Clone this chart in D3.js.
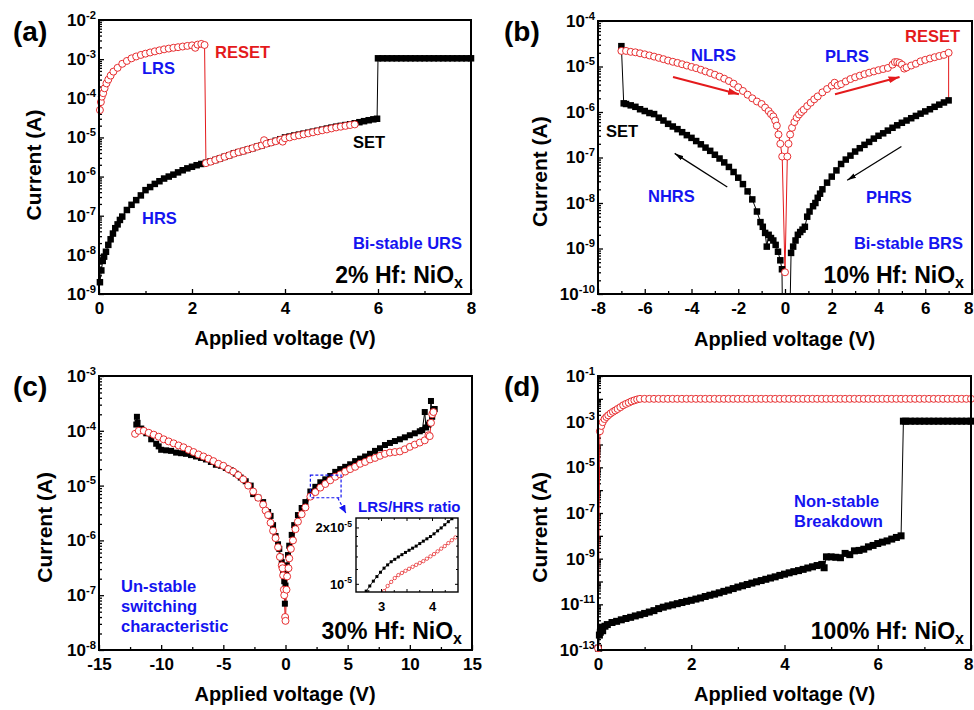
<!DOCTYPE html>
<html>
<head>
<meta charset="utf-8">
<script src="https://cdn.jsdelivr.net/npm/d3@7"></script>
<style>
  body { margin: 0; background: #fff; }
  svg text { font-family: Arial, "Liberation Sans", Helvetica, sans-serif; font-weight: bold; }
</style>
</head>
<body>
<svg id="fig" width="974" height="710"></svg>
<script>
/************************************************************
 * 1) Data  [voltage (V), current (A)]
 ************************************************************/
// (a) 2% Hf: HRS sweep, SET at 6 V, then compliance
const aBlack = [[0.02,2.0e-9],[0.05,4.0e-9],[0.08,7.0e-9],[0.11,9.0e-9],[0.15,1.2e-8],[0.2,1.8e-8],[0.25,2.5e-8],[0.3,3.5e-8],[0.35,4.8e-8],[0.4,6.0e-8],[0.45,7.8e-8],[0.5,9.5e-8],[0.6,1.4e-7],[0.7,1.9e-7],[0.8,2.5e-7],[0.9,3.3e-7],[1.0,4.5e-7],[1.1,5.4e-7],[1.2,6.5e-7],[1.3,7.6e-7],[1.4,8.9e-7],[1.5,1.0e-6],[1.6,1.12e-6],[1.7,1.28e-6],[1.8,1.45e-6],[1.9,1.62e-6],[2.0,1.78e-6],[2.1,1.95e-6],[2.2,2.1e-6],[2.3,2.25e-6],[2.4,2.45e-6],[2.5,2.65e-6],[2.6,2.9e-6],[2.7,3.2e-6],[2.8,3.5e-6],[2.9,3.9e-6],[3.0,4.2e-6],[3.1,4.5e-6],[3.2,4.9e-6],[3.3,5.3e-6],[3.4,5.8e-6],[3.5,6.3e-6],[3.6,6.9e-6],[3.7,7.5e-6],[3.8,8.2e-6],[3.9,9.0e-6],[4.0,1.0e-5],[4.1,1.05e-5],[4.2,1.12e-5],[4.3,1.18e-5],[4.4,1.25e-5],[4.5,1.32e-5],[4.6,1.4e-5],[4.7,1.48e-5],[4.8,1.58e-5],[4.9,1.68e-5],[5.0,1.78e-5],[5.1,1.88e-5],[5.2,1.97e-5],[5.3,2.07e-5],[5.4,2.17e-5],[5.5,2.3e-5],[5.6,2.45e-5],[5.7,2.6e-5],[5.8,2.75e-5],[5.9,2.9e-5],[5.98,3.0e-5],
  [6.0,1.05e-3],[6.1,1.05e-3],[6.2,1.05e-3],[6.3,1.05e-3],[6.4,1.05e-3],[6.5,1.05e-3],[6.6,1.05e-3],[6.7,1.05e-3],[6.8,1.05e-3],[6.9,1.05e-3],[7.0,1.05e-3],[7.1,1.05e-3],[7.2,1.05e-3],[7.3,1.05e-3],[7.4,1.05e-3],[7.5,1.05e-3],[7.6,1.05e-3],[7.7,1.05e-3],[7.8,1.05e-3],[7.9,1.05e-3],[8.0,1.05e-3]];
// (a) LRS sweep, RESET at 2.3 V, then back on HRS
const aRed = [[0.02,5.0e-5],[0.04,8.0e-5],[0.06,1.1e-4],[0.09,1.35e-4],[0.12,1.8e-4],[0.16,2.4e-4],[0.2,3.0e-4],[0.25,3.8e-4],[0.31,4.8e-4],[0.4,6.0e-4],[0.5,7.6e-4],[0.6,9.0e-4],[0.7,1.05e-3],[0.8,1.17e-3],[0.9,1.28e-3],[1.0,1.38e-3],[1.1,1.48e-3],[1.2,1.58e-3],[1.3,1.68e-3],[1.4,1.78e-3],[1.5,1.86e-3],[1.6,1.95e-3],[1.7,2.02e-3],[1.8,2.1e-3],[1.9,2.18e-3],[2.0,2.25e-3],[2.07,1.95e-3],[2.12,2.35e-3],[2.2,2.45e-3],[2.27,2.3e-3],
  [2.3,2.2e-6],[2.4,2.4e-6],[2.5,2.65e-6],[2.6,2.9e-6],[2.7,3.2e-6],[2.8,3.5e-6],[2.9,3.85e-6],[3.0,4.2e-6],[3.1,4.5e-6],[3.2,4.9e-6],[3.3,5.3e-6],[3.4,5.8e-6],[3.5,6.3e-6],[3.55,8.5e-6],[3.6,6.9e-6],[3.7,7.4e-6],[3.8,8.0e-6],[3.9,8.7e-6],[3.95,7.8e-6],[4.0,9.5e-6],[4.1,1.0e-5],[4.2,1.07e-5],[4.3,1.13e-5],[4.4,1.2e-5],[4.5,1.27e-5],[4.6,1.35e-5],[4.7,1.43e-5],[4.8,1.52e-5],[4.9,1.6e-5],[5.0,1.7e-5],[5.1,1.8e-5],[5.2,1.88e-5],[5.3,1.97e-5],[5.4,2.07e-5],[5.5,2.15e-5]];

// (b) 10% Hf: bipolar HRS (with SET point at -7 V) and LRS
const bBlack = [[-7.0,2.8e-5],[-6.9,1.55e-6],[-6.8,1.5e-6],[-6.6,1.4e-6],[-6.4,1.3e-6],[-6.2,1.15e-6],[-6.0,1.05e-6],[-5.8,9.5e-7],[-5.6,9.0e-7],[-5.4,7.5e-7],[-5.2,6.5e-7],[-5.0,5.5e-7],[-4.8,4.8e-7],[-4.6,4.2e-7],[-4.4,3.6e-7],[-4.2,3.1e-7],[-4.0,2.7e-7],[-3.8,2.3e-7],[-3.6,1.95e-7],[-3.4,1.65e-7],[-3.2,1.4e-7],[-3.0,1.15e-7],[-2.8,9.5e-8],[-2.6,7.8e-8],[-2.4,6.2e-8],[-2.2,4.8e-8],[-2.0,3.6e-8],[-1.8,2.6e-8],[-1.6,1.8e-8],[-1.4,1.2e-8],[-1.2,6.5e-9],[-1.05,3.8e-9],[-0.95,3.0e-9],[-0.85,2.2e-9],[-0.78,1.1e-9],[-0.7,2.0e-9],[-0.6,1.7e-9],[-0.5,1.5e-9],[-0.4,1.2e-9],[-0.3,8.5e-10],[-0.2,5.5e-10],[-0.13,3.5e-10],[-0.05,1e-13],[0.12,1e-13],[0.26,8.0e-10],[0.35,1.1e-9],[0.45,1.5e-9],[0.55,2.0e-9],[0.65,2.3e-9],[0.75,2.6e-9],[0.85,3.0e-9],[0.95,5.0e-9],[1.05,6.5e-9],[1.2,8.5e-9],[1.3,1.0e-8],[1.4,1.3e-8],[1.5,1.6e-8],[1.6,2.0e-8],[1.8,2.8e-8],[2.0,3.8e-8],[2.2,5.2e-8],[2.4,7.2e-8],[2.6,9.0e-8],[2.8,1.1e-7],[3.0,1.35e-7],[3.2,1.6e-7],[3.4,1.9e-7],[3.6,2.2e-7],[3.8,2.6e-7],[4.0,3.0e-7],[4.2,3.4e-7],[4.4,3.9e-7],[4.6,4.5e-7],[4.8,5.1e-7],[5.0,5.8e-7],[5.2,6.5e-7],[5.4,7.3e-7],[5.6,8.2e-7],[5.8,9.2e-7],[6.0,1.03e-6],[6.2,1.15e-6],[6.4,1.3e-6],[6.6,1.45e-6],[6.8,1.62e-6],[7.0,1.8e-6]];
const bRed = [[-7.0,2.2e-5],[-6.8,2.2e-5],[-6.6,2.1e-5],[-6.4,2.05e-5],[-6.2,1.95e-5],[-6.0,1.85e-5],[-5.8,1.75e-5],[-5.6,1.65e-5],[-5.4,1.55e-5],[-5.2,1.45e-5],[-5.0,1.35e-5],[-4.8,1.27e-5],[-4.6,1.2e-5],[-4.4,1.12e-5],[-4.2,1.05e-5],[-4.0,9.8e-6],[-3.8,9.2e-6],[-3.6,8.5e-6],[-3.4,7.8e-6],[-3.2,7.2e-6],[-3.0,6.6e-6],[-2.8,6.0e-6],[-2.6,5.4e-6],[-2.4,4.8e-6],[-2.2,4.2e-6],[-2.0,3.5e-6],[-1.8,2.9e-6],[-1.6,2.4e-6],[-1.4,2.0e-6],[-1.2,1.7e-6],[-1.0,1.5e-6],[-0.85,1.25e-6],[-0.7,1.05e-6],[-0.6,9.0e-7],[-0.5,8.0e-7],[-0.42,6.5e-7],[-0.35,5.0e-7],[-0.28,3.2e-7],[-0.2,2.0e-7],[-0.12,1.05e-7],[0.0,3.0e-10],[0.1,1.05e-7],[0.15,2.0e-7],[0.22,3.2e-7],[0.3,4.5e-7],[0.4,6.0e-7],[0.5,7.5e-7],[0.6,8.8e-7],[0.7,1.0e-6],[0.8,1.12e-6],[0.95,1.35e-6],[1.1,1.6e-6],[1.25,1.9e-6],[1.4,2.2e-6],[1.6,2.7e-6],[1.8,3.2e-6],[2.0,3.8e-6],[2.12,4.4e-6],[2.25,3.8e-6],[2.4,4.1e-6],[2.6,4.7e-6],[2.8,5.3e-6],[3.0,5.8e-6],[3.2,6.3e-6],[3.4,6.8e-6],[3.6,7.3e-6],[3.8,7.8e-6],[4.0,8.3e-6],[4.2,8.8e-6],[4.4,9.3e-6],[4.6,1.1e-5],[4.7,1.25e-5],[4.8,1.25e-5],[4.9,1.2e-5],[5.0,1.1e-5],[5.1,9.0e-6],[5.2,9.5e-6],[5.4,1.05e-5],[5.6,1.15e-5],[5.8,1.3e-5],[6.0,1.4e-5],[6.2,1.5e-5],[6.4,1.6e-5],[6.6,1.7e-5],[6.8,1.8e-5],[7.0,2.0e-5]];
const bResetDrop = [[7.0,2.0e-5],[7.0,1.8e-6]];

// (c) 30% Hf: un-stable switching
const cBlack = [[-12.0,1.3e-4],[-11.95,1.8e-4],[-11.9,1.4e-4],[-11.6,1.1e-4],[-11.2,9.0e-5],[-10.8,7.0e-5],[-10.4,5.8e-5],[-10.2,5.2e-5],[-10.0,4.5e-5],[-9.6,4.4e-5],[-9.2,4.3e-5],[-8.8,4.0e-5],[-8.4,3.9e-5],[-8.0,3.8e-5],[-7.6,3.6e-5],[-7.2,3.4e-5],[-6.8,3.2e-5],[-6.4,3.0e-5],[-6.0,2.7e-5],[-5.6,2.4e-5],[-5.2,2.3e-5],[-4.8,2.1e-5],[-4.4,1.9e-5],[-4.0,1.65e-5],[-3.6,1.4e-5],[-3.2,1.2e-5],[-2.8,1.0e-5],[-2.6,7.0e-6],[-2.2,6.0e-6],[-1.8,5.0e-6],[-1.4,3.3e-6],[-1.2,2.8e-6],[-1.0,1.9e-6],[-0.8,1.2e-6],[-0.6,8.5e-7],[-0.5,7.0e-7],[-0.4,5.0e-7],[-0.3,4.0e-7],[-0.2,2.8e-7],[-0.1,1.8e-7],[-0.05,7.0e-8],[0.0,1.5e-7],[0.05,2.5e-7],[0.1,3.5e-7],[0.2,5.4e-7],[0.3,8.0e-7],[0.5,1.26e-6],[0.7,1.9e-6],[1.0,2.9e-6],[1.3,3.9e-6],[1.6,5.0e-6],[2.0,7.8e-6],[2.4,9.5e-6],[2.8,1.15e-5],[3.2,1.3e-5],[3.6,1.5e-5],[4.0,1.78e-5],[4.4,2.0e-5],[4.8,2.2e-5],[5.2,2.45e-5],[5.6,2.8e-5],[6.0,3.1e-5],[6.4,3.4e-5],[6.8,3.8e-5],[7.2,4.3e-5],[7.6,4.8e-5],[8.0,5.5e-5],[8.4,6.0e-5],[8.8,6.5e-5],[9.2,7.0e-5],[9.6,7.6e-5],[10.0,8.3e-5],[10.4,9.0e-5],[10.8,9.8e-5],[11.0,1.03e-4],[11.2,2.2e-4],[11.3,1.15e-4],[11.5,1.3e-4],[11.6,1.4e-4],[11.7,3.5e-4],[11.8,1.8e-4],[12.0,2.5e-4]];
const cRed = [[-12.1,8.8e-5],[-11.8,1.0e-4],[-11.4,1.0e-4],[-11.0,9.2e-5],[-10.6,8.5e-5],[-10.2,7.8e-5],[-9.8,7.0e-5],[-9.4,6.4e-5],[-9.0,5.9e-5],[-8.6,5.4e-5],[-8.2,5.0e-5],[-7.8,4.5e-5],[-7.4,4.1e-5],[-7.0,3.7e-5],[-6.6,3.4e-5],[-6.2,3.1e-5],[-5.8,2.8e-5],[-5.4,2.5e-5],[-5.0,2.3e-5],[-4.6,2.0e-5],[-4.2,1.8e-5],[-3.8,1.55e-5],[-3.4,1.3e-5],[-3.0,1.0e-5],[-2.6,7.8e-6],[-2.2,6.0e-6],[-1.8,4.5e-6],[-1.6,3.5e-6],[-1.4,2.9e-6],[-1.2,2.1e-6],[-1.0,1.5e-6],[-0.8,1.1e-6],[-0.6,7.5e-7],[-0.45,5.0e-7],[-0.3,3.5e-7],[-0.24,3.1e-7],[-0.19,2.3e-7],[-0.13,1.26e-7],[-0.1,1.0e-7],[-0.03,4.0e-8],[0.0,3.4e-8],[0.08,1.26e-7],[0.13,2.2e-7],[0.24,3.1e-7],[0.3,4.7e-7],[0.43,7.0e-7],[0.6,1.0e-6],[0.8,1.6e-6],[1.0,2.2e-6],[1.3,3.0e-6],[1.6,4.0e-6],[2.0,6.3e-6],[2.4,7.6e-6],[2.8,9.2e-6],[3.2,1.07e-5],[3.6,1.25e-5],[4.0,1.45e-5],[4.4,1.6e-5],[4.8,1.8e-5],[5.2,2.0e-5],[5.6,2.2e-5],[6.0,2.5e-5],[6.4,2.7e-5],[6.8,3.0e-5],[7.2,3.2e-5],[7.6,3.5e-5],[8.0,3.8e-5],[8.4,4.0e-5],[8.8,4.1e-5],[9.2,4.2e-5],[9.6,4.6e-5],[10.0,5.1e-5],[10.4,5.6e-5],[10.8,6.1e-5],[11.2,6.7e-5],[11.5,8.3e-5],[11.6,8.0e-5],[11.7,1.4e-4],[11.8,2.0e-4],[11.9,2.2e-4]];
// (c) inset: LRS/HRS ratio close-up
const cInsetBlack = [[2.7,9.2e-6],[2.77,9.8e-6],[2.84,1.04e-5],[2.91,1.1e-5],[2.98,1.16e-5],[3.05,1.22e-5],[3.12,1.27e-5],[3.19,1.32e-5],[3.26,1.36e-5],[3.33,1.4e-5],[3.4,1.44e-5],[3.47,1.48e-5],[3.54,1.52e-5],[3.61,1.56e-5],[3.68,1.6e-5],[3.75,1.65e-5],[3.82,1.7e-5],[3.89,1.75e-5],[3.96,1.8e-5],[4.03,1.86e-5],[4.1,1.93e-5],[4.17,2.0e-5],[4.24,2.08e-5],[4.31,2.16e-5],[4.38,2.24e-5]];
const cInsetRed = [[3.05,9.2e-6],[3.12,9.8e-6],[3.19,1.03e-5],[3.26,1.08e-5],[3.33,1.12e-5],[3.4,1.15e-5],[3.47,1.18e-5],[3.54,1.21e-5],[3.61,1.24e-5],[3.68,1.27e-5],[3.75,1.3e-5],[3.82,1.33e-5],[3.89,1.37e-5],[3.96,1.41e-5],[4.03,1.45e-5],[4.1,1.5e-5],[4.17,1.55e-5],[4.24,1.6e-5],[4.31,1.66e-5],[4.38,1.72e-5],[4.45,1.78e-5]];

// (d) 100% Hf: non-stable breakdown
const dRed = [[0.0,1.2e-13],[0.04,3.8e-4],[0.07,6.5e-4],[0.1,9.5e-4],[0.14,1.3e-3],[0.18,1.6e-3],[0.22,1.9e-3],[0.27,2.3e-3],[0.32,2.7e-3],[0.37,3.1e-3],[0.42,3.6e-3],[0.48,4.3e-3],[0.54,5.2e-3],[0.6,6.0e-3],[0.66,6.8e-3],[0.72,7.8e-3],[0.78,8.6e-3],[0.84,9.4e-3],[0.9,1.0e-2],
  [1.0,1.0e-2],[1.1,1.0e-2],[1.2,1.0e-2],[1.3,1.0e-2],[1.4,1.0e-2],[1.5,1.0e-2],[1.6,1.0e-2],[1.7,1.0e-2],[1.8,1.0e-2],[1.9,1.0e-2],[2.0,1.0e-2],[2.1,1.0e-2],[2.2,1.0e-2],[2.3,1.0e-2],[2.4,1.0e-2],[2.5,1.0e-2],[2.6,1.0e-2],[2.7,1.0e-2],[2.8,1.0e-2],[2.9,1.0e-2],[3.0,1.0e-2],[3.1,1.0e-2],[3.2,1.0e-2],[3.3,1.0e-2],[3.4,1.0e-2],[3.5,1.0e-2],[3.6,1.0e-2],[3.7,1.0e-2],[3.8,1.0e-2],[3.9,1.0e-2],[4.0,1.0e-2],[4.1,1.0e-2],[4.2,1.0e-2],[4.3,1.0e-2],[4.4,1.0e-2],[4.5,1.0e-2],[4.6,1.0e-2],[4.7,1.0e-2],[4.8,1.0e-2],[4.9,1.0e-2],[5.0,1.0e-2],[5.1,1.0e-2],[5.2,1.0e-2],[5.3,1.0e-2],[5.4,1.0e-2],[5.5,1.0e-2],[5.6,1.0e-2],[5.7,1.0e-2],[5.8,1.0e-2],[5.9,1.0e-2],[6.0,1.0e-2],[6.1,1.0e-2],[6.2,1.0e-2],[6.3,1.0e-2],[6.4,1.0e-2],[6.5,1.0e-2],[6.6,1.0e-2],[6.7,1.0e-2],[6.8,1.0e-2],[6.9,1.0e-2],[7.0,1.0e-2],[7.1,1.0e-2],[7.2,1.0e-2],[7.3,1.0e-2],[7.4,1.0e-2],[7.5,1.0e-2],[7.6,1.0e-2],[7.7,1.0e-2],[7.8,1.0e-2],[7.9,1.0e-2],[8.0,1.0e-2]];
const dBlack = [[0.01,1.2e-13],[0.03,4.5e-13],[0.05,6.0e-13],[0.08,1.0e-12],[0.1,7.0e-13],[0.15,1.1e-12],[0.2,1.3e-12],[0.3,1.6e-12],[0.4,1.8e-12],[0.5,2.1e-12],[0.6,2.4e-12],[0.7,2.7e-12],[0.8,3.1e-12],[0.9,3.5e-12],[1.0,4.0e-12],[1.1,4.6e-12],[1.2,5.3e-12],[1.3,6.5e-12],[1.4,7.5e-12],[1.5,8.5e-12],[1.6,9.5e-12],[1.7,1.07e-11],[1.8,1.2e-11],[1.9,1.35e-11],[2.0,1.5e-11],[2.1,1.7e-11],[2.2,1.9e-11],[2.3,2.2e-11],[2.4,2.5e-11],[2.5,2.8e-11],[2.6,3.2e-11],[2.7,3.7e-11],[2.8,4.2e-11],[2.9,4.9e-11],[3.0,5.7e-11],[3.1,6.5e-11],[3.2,7.4e-11],[3.3,8.5e-11],[3.4,9.7e-11],[3.5,1.1e-10],[3.6,1.25e-10],[3.7,1.42e-10],[3.8,1.6e-10],[3.9,1.85e-10],[4.0,2.1e-10],[4.1,2.4e-10],[4.2,2.7e-10],[4.3,3.0e-10],[4.4,3.4e-10],[4.5,3.9e-10],[4.6,4.4e-10],[4.7,5.0e-10],[4.8,5.6e-10],[4.85,4.0e-10],[4.9,1.2e-9],[5.0,1.2e-9],[5.1,1.15e-9],[5.2,1.1e-9],[5.3,1.7e-9],[5.4,1.5e-9],[5.5,2.2e-9],[5.6,2.3e-9],[5.7,2.6e-9],[5.8,3.3e-9],[5.9,3.8e-9],[6.0,4.6e-9],[6.1,5.3e-9],[6.2,6.0e-9],[6.3,7.2e-9],[6.4,8.5e-9],[6.5,1.0e-8],
  [6.55,1.05e-3],[6.6,1.05e-3],[6.7,1.05e-3],[6.8,1.05e-3],[6.9,1.05e-3],[7.0,1.05e-3],[7.1,1.05e-3],[7.2,1.05e-3],[7.3,1.05e-3],[7.4,1.05e-3],[7.5,1.05e-3],[7.6,1.05e-3],[7.7,1.05e-3],[7.8,1.05e-3],[7.9,1.05e-3],[8.0,1.05e-3]];

/************************************************************
 * 2) Tick values
 ************************************************************/
const aXTicks = [0, 2, 4, 6, 8],            aXMinor = [1, 3, 5, 7];
const bXTicks = [-8, -6, -4, -2, 0, 2, 4, 6, 8], bXMinor = [-7, -5, -3, -1, 1, 3, 5, 7];
const cXTicks = [-15, -10, -5, 0, 5, 10, 15], cXMinor = [-12.5, -7.5, -2.5, 2.5, 7.5, 12.5];
const dXTicks = [0, 2, 4, 6, 8],            dXMinor = [1, 3, 5, 7];
const aYExp = [-9, -8, -7, -6, -5, -4, -3, -2];
const bYExp = [-10, -9, -8, -7, -6, -5, -4];
const cYExp = [-8, -7, -6, -5, -4, -3];
const dYExp = [-13, -12, -11, -10, -9, -8, -7, -6, -5, -4, -3, -2, -1];
const dYLabelExp = [-13, -11, -9, -7, -5, -3, -1];
const insetXTicks = [3, 4], insetXMinor = [2.75, 3.25, 3.5, 3.75, 4.25];
const insetYTicks = [1e-5, 2e-5], insetYLabels = [['10', '-5'], ['2x10', '-5']];
const insetYMinor = [1.2e-5, 1.4e-5, 1.6e-5, 1.8e-5];

/************************************************************
 * 3) Helpers
 ************************************************************/
const FONT = 'Arial, "Liberation Sans", Helvetica, sans-serif';
const RED = '#e41a1c', BLUE = '#1414f0';
const FIG_W = 974;
const svg = d3.select('#fig');
const defs = svg.append('defs');

function arrowMarker(id, color, w, h) {
  defs.append('marker').attr('id', id)
    .attr('viewBox', `0 0 ${w} ${h}`).attr('refX', w).attr('refY', h / 2)
    .attr('markerWidth', w).attr('markerHeight', h)
    .attr('markerUnits', 'userSpaceOnUse').attr('orient', 'auto')
    .append('path').attr('d', `M0,0L${w},${h / 2}L0,${h}Z`).attr('fill', color);
}
arrowMarker('ar-red', RED, 11, 7);
arrowMarker('ar-black', '#000', 9, 5);
arrowMarker('ar-blue', BLUE, 8, 7);

function powLabel(sel, base, exp, fs) {
  sel.text(null);
  sel.append('tspan').text(base);
  sel.append('tspan').attr('dy', -fs * 0.42).attr('font-size', fs * 0.66).text(exp);
}

function styleAxis(ax, fs) {
  ax.select('.domain').remove();
  ax.selectAll('line').attr('stroke', '#000').attr('stroke-width', 1.3);
  ax.selectAll('text').attr('font-size', fs).attr('font-family', FONT)
    .attr('font-weight', 'bold').attr('fill', '#000');
}

function makePanel(p) {
  const g = svg.append('g').attr('transform', `translate(${p.left},${p.top})`);
  const x = d3.scaleLinear().domain(p.xDomain).range([0, p.w]);
  const y = d3.scaleLog().domain(p.yDomain).range([p.h, 0]);

  g.append('clipPath').attr('id', 'clip-' + p.id)
    .append('rect').attr('width', p.w).attr('height', p.h);

  // x axis (ticks point inward)
  const xAx = g.append('g').attr('transform', `translate(0,${p.h})`)
    .call(d3.axisBottom(x).tickValues(p.xTicks).tickSizeInner(-5).tickSizeOuter(0)
      .tickPadding(8).tickFormat(d => String(d)));
  styleAxis(xAx, 17);
  // keep the last label inside the figure when the frame touches the edge
  if (p.left + p.w + 6 > FIG_W) {
    xAx.selectAll('.tick text').filter(d => d === p.xDomain[1])
      .attr('text-anchor', 'end').attr('x', FIG_W - (p.left + p.w) - 1);
  }
  const xMin = g.append('g').attr('transform', `translate(0,${p.h})`)
    .call(d3.axisBottom(x).tickValues(p.xMinor).tickSizeInner(-3).tickSizeOuter(0).tickFormat(''));
  styleAxis(xMin, 17);

  // y axis: decades + minor 2..9
  const yAx = g.append('g')
    .call(d3.axisLeft(y).tickValues(p.yExp.map(e => Math.pow(10, e))).tickSizeInner(-5)
      .tickSizeOuter(0).tickPadding(3).tickFormat(''));
  styleAxis(yAx, 17);
  yAx.selectAll('.tick text').each(function (d) {
    const e = Math.round(Math.log10(d));
    if (p.yLabelExp.includes(e)) powLabel(d3.select(this), '10', String(e), 17);
  });
  const minor = [];
  p.yExp.slice(0, -1).forEach(e => { for (let m = 2; m < 10; m++) minor.push(m * Math.pow(10, e)); });
  const yMin = g.append('g')
    .call(d3.axisLeft(y).tickValues(minor).tickSizeInner(-3).tickSizeOuter(0).tickFormat(''));
  styleAxis(yMin, 17);

  const plot = g.append('g');
  const lines = plot.append('g').attr('clip-path', `url(#clip-${p.id})`);

  // titles
  svg.append('text').attr('x', p.xTitle[0]).attr('y', p.xTitle[1]).attr('text-anchor', 'middle')
    .attr('font-size', 20).text('Applied voltage (V)');
  svg.append('text').attr('transform', `translate(${p.yTitle[0]},${p.yTitle[1]}) rotate(-90)`)
    .attr('text-anchor', 'middle').attr('font-size', 21).text('Current (A)');
  svg.append('text').attr('x', p.tag[0]).attr('y', p.tag[1]).attr('font-size', 28).text(p.tagText);

  return { g, plot, lines, x, y, p };
}

function drawFrame(P) {
  P.g.append('rect').attr('width', P.p.w).attr('height', P.p.h)
    .attr('fill', 'none').attr('stroke', '#000').attr('stroke-width', 2);
}

function drawSeries(P, data, kind, size) {
  const color = kind === 'sq' ? '#000' : RED;
  const line = d3.line().x(d => P.x(d[0])).y(d => P.y(d[1]));
  P.lines.append('path').datum(data).attr('d', line)
    .attr('fill', 'none').attr('stroke', color).attr('stroke-width', 1);
  const [lo, hi] = P.y.domain();
  const inside = data.filter(d => d[1] >= lo && d[1] <= hi);
  const mk = P.plot.append('g');
  if (kind === 'sq') {
    mk.selectAll('rect').data(inside).join('rect')
      .attr('x', d => P.x(d[0]) - size / 2).attr('y', d => P.y(d[1]) - size / 2)
      .attr('width', size).attr('height', size).attr('fill', '#000');
  } else {
    mk.selectAll('circle').data(inside).join('circle')
      .attr('cx', d => P.x(d[0])).attr('cy', d => P.y(d[1])).attr('r', size)
      .attr('fill', '#fff').attr('stroke', RED).attr('stroke-width', 0.9);
  }
}

function note(x, y, text, color, size, anchor) {
  svg.append('text').attr('x', x).attr('y', y).attr('fill', color)
    .attr('font-size', size || 16.5).attr('text-anchor', anchor || 'start').text(text);
}

function sampleLabel(x, y, main) {
  const t = svg.append('text').attr('x', x).attr('y', y).attr('text-anchor', 'end').attr('font-size', 23);
  t.append('tspan').text(main);
  t.append('tspan').attr('font-size', 16).attr('dy', 5).text('x');
}

function arrow(P, from, to, id, color, width, dash) {
  P.plot.append('line')
    .attr('x1', P.x(from[0])).attr('y1', P.y(from[1]))
    .attr('x2', P.x(to[0])).attr('y2', P.y(to[1]))
    .attr('stroke', color).attr('stroke-width', width)
    .attr('stroke-dasharray', dash || null)
    .attr('marker-end', `url(#${id})`);
}

/************************************************************
 * 4) Panels
 ************************************************************/
// (a)
const A = makePanel({ id: 'a', left: 99, top: 20, w: 372, h: 274, xDomain: [0, 8], yDomain: [1e-9, 1e-2],
  xTicks: aXTicks, xMinor: aXMinor, yExp: aYExp, yLabelExp: aYExp,
  xTitle: [285, 345], yTitle: [40.5, 165], tag: [13, 41], tagText: '(a)' });
drawSeries(A, aBlack, 'sq', 6.5);
drawSeries(A, aRed, 'ci', 3.5);
drawFrame(A);
note(215, 57.5, 'RESET', RED);
note(142, 74, 'LRS', BLUE);
note(142, 224, 'HRS', BLUE);
note(353, 148, 'SET', '#000');
note(462, 249, 'Bi-stable URS', BLUE, 16.5, 'end');
sampleLabel(463, 282.5, '2% Hf: NiO');

// (b)
const B = makePanel({ id: 'b', left: 598, top: 21, w: 374, h: 273, xDomain: [-8, 8], yDomain: [1e-10, 1e-4],
  xTicks: bXTicks, xMinor: bXMinor, yExp: bYExp, yLabelExp: bYExp,
  xTitle: [784.5, 346], yTitle: [546.5, 171.7], tag: [504, 41], tagText: '(b)' });
drawSeries(B, bBlack, 'sq', 6.5);
B.lines.append('path').datum(bResetDrop)
  .attr('d', d3.line().x(d => B.x(d[0])).y(d => B.y(d[1])))
  .attr('fill', 'none').attr('stroke', RED).attr('stroke-width', 1);
drawSeries(B, bRed, 'ci', 3.5);
arrow(B, [-4.79, 5.9e-6], [-1.97, 2.45e-6], 'ar-red', RED, 2);
arrow(B, [2.14, 2.45e-6], [4.9, 5.9e-6], 'ar-red', RED, 2);
arrow(B, [-2.47, 2.24e-8], [-4.72, 1.23e-7], 'ar-black', '#000', 1.3);
arrow(B, [4.98, 1.74e-7], [2.66, 3.16e-8], 'ar-black', '#000', 1.3);
drawFrame(B);
note(905, 41.7, 'RESET', RED);
note(691, 60.7, 'NLRS', BLUE);
note(825, 61.7, 'PLRS', BLUE);
note(606, 137.4, 'SET', '#000');
note(648, 202.4, 'NHRS', BLUE);
note(866, 203, 'PHRS', BLUE);
note(963, 249, 'Bi-stable BRS', BLUE, 16.5, 'end');
sampleLabel(964, 282.5, '10% Hf: NiO');

// (c)
const C = makePanel({ id: 'c', left: 99, top: 376, w: 373, h: 274, xDomain: [-15, 15], yDomain: [1e-8, 1e-3],
  xTicks: cXTicks, xMinor: cXMinor, yExp: cYExp, yLabelExp: cYExp,
  xTitle: [285, 701], yTitle: [52.2, 527.3], tag: [13, 396], tagText: '(c)' });
drawSeries(C, cBlack, 'sq', 6);
drawSeries(C, cRed, 'ci', 3.5);
// dashed zoom box + arrow
C.plot.append('rect')
  .attr('x', C.x(2.0)).attr('y', C.y(1.55e-5))
  .attr('width', C.x(4.47) - C.x(2.0)).attr('height', C.y(6.0e-6) - C.y(1.55e-5))
  .attr('fill', 'none').attr('stroke', BLUE).attr('stroke-width', 1.2).attr('stroke-dasharray', '3,2');
arrow(C, [4.2, 6.0e-6], [4.85, 3.15e-6], 'ar-blue', BLUE, 1.2, '3,2');
drawFrame(C);
note(121, 592.4, 'Un-stable', BLUE);
note(121, 612.4, 'switching', BLUE);
note(121, 632.4, 'characteristic', BLUE);
note(358, 511.7, 'LRS/HRS ratio', BLUE, 15);
sampleLabel(462, 639, '30% Hf: NiO');

// (c) inset
(function () {
  const L = 356, T = 518, W = 102, H = 74;
  const g = svg.append('g').attr('transform', `translate(${L},${T})`);
  const x = d3.scaleLinear().domain([2.5, 4.5]).range([0, W]);
  const y = d3.scaleLog().domain([9.1e-6, 2.26e-5]).range([H, 0]);
  g.append('rect').attr('width', W).attr('height', H).attr('fill', '#fff');
  g.append('clipPath').attr('id', 'clip-inset').append('rect').attr('width', W).attr('height', H);
  const body = g.append('g').attr('clip-path', 'url(#clip-inset)');
  const line = d3.line().x(d => x(d[0])).y(d => y(d[1]));
  body.append('path').datum(cInsetBlack).attr('d', line).attr('fill', 'none').attr('stroke', '#000').attr('stroke-width', 0.8);
  body.selectAll('rect.sq').data(cInsetBlack).join('rect').attr('class', 'sq')
    .attr('x', d => x(d[0]) - 1.5).attr('y', d => y(d[1]) - 1.5).attr('width', 3).attr('height', 3).attr('fill', '#000');
  body.append('path').datum(cInsetRed).attr('d', line).attr('fill', 'none').attr('stroke', RED).attr('stroke-width', 0.8);
  body.selectAll('circle').data(cInsetRed).join('circle')
    .attr('cx', d => x(d[0])).attr('cy', d => y(d[1])).attr('r', 1.7)
    .attr('fill', '#fff').attr('stroke', RED).attr('stroke-width', 0.7);

  const tick = sel => sel.attr('stroke', '#000').attr('stroke-width', 1);
  [[insetXTicks.concat([3.5]), 3], [insetXMinor.filter(v => v !== 3.5), 2]].forEach(([vals, len]) => {
    vals.forEach(v => {
      tick(g.append('line').attr('x1', x(v)).attr('x2', x(v)).attr('y1', H).attr('y2', H - len));
      tick(g.append('line').attr('x1', x(v)).attr('x2', x(v)).attr('y1', 0).attr('y2', len));
    });
  });
  [[insetYTicks, 3], [insetYMinor, 2]].forEach(([vals, len]) => {
    vals.forEach(v => {
      tick(g.append('line').attr('x1', 0).attr('x2', len).attr('y1', y(v)).attr('y2', y(v)));
      tick(g.append('line').attr('x1', W).attr('x2', W - len).attr('y1', y(v)).attr('y2', y(v)));
    });
  });
  g.append('rect').attr('width', W).attr('height', H).attr('fill', 'none').attr('stroke', '#000').attr('stroke-width', 1.4);

  insetXTicks.forEach(v => {
    g.append('text').attr('x', x(v)).attr('y', H + 19).attr('text-anchor', 'middle').attr('font-size', 13).text(String(v));
  });
  insetYTicks.forEach((v, i) => {
    const t = g.append('text').attr('x', -4).attr('y', y(v)).attr('dy', '0.35em')
      .attr('text-anchor', 'end').attr('font-size', 13);
    powLabel(t, insetYLabels[i][0], insetYLabels[i][1], 13);
  });
})();

// (d)
const D = makePanel({ id: 'd', left: 598, top: 376, w: 373, h: 274, xDomain: [0, 8], yDomain: [1e-13, 1e-1],
  xTicks: dXTicks, xMinor: dXMinor, yExp: dYExp, yLabelExp: dYLabelExp,
  xTitle: [784.5, 701], yTitle: [546.5, 527.3], tag: [504, 396], tagText: '(d)' });
drawSeries(D, dBlack, 'sq', 7);
drawSeries(D, dRed, 'ci', 3.5);
drawFrame(D);
note(794, 507.4, 'Non-stable', BLUE);
note(794, 527.4, 'Breakdown', BLUE);
sampleLabel(964, 639, '100% Hf: NiO');
</script>
</body>
</html>
